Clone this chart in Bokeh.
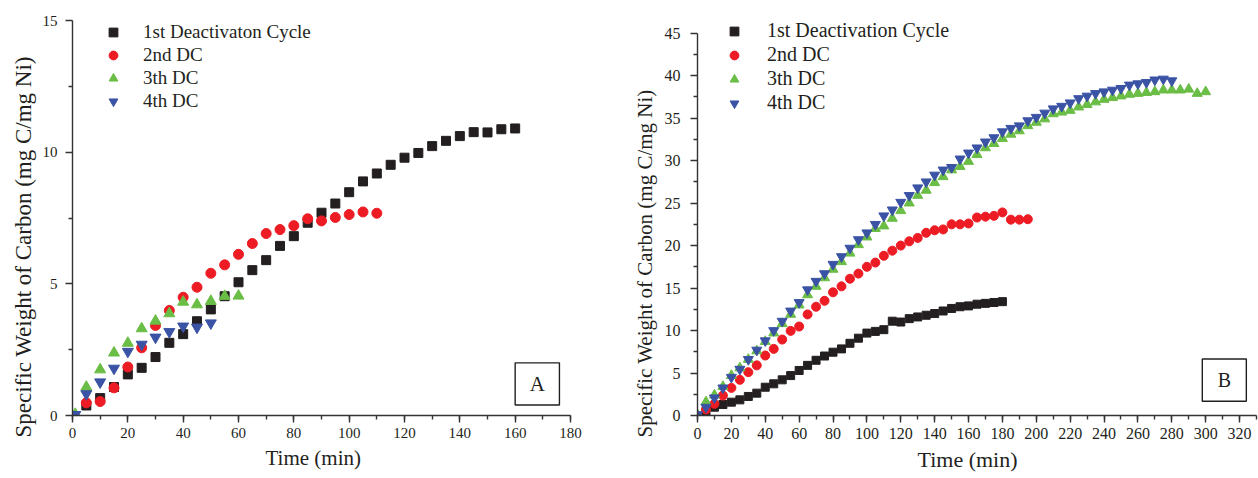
from bokeh.plotting import figure
from bokeh.layouts import row
from bokeh.models import Range1d, FixedTicker, BoxAnnotation, Label, Title
from bokeh.embed import file_html
from bokeh.resources import INLINE

# ---------------- Panel A data ----------------
a_time1 = [5, 10, 15, 20, 25, 30, 35, 40, 45, 50, 55, 60, 65, 70, 75, 80,
           85, 90, 95, 100, 105, 110, 115, 120, 125, 130, 135, 140, 145, 150, 155, 160]
a_c1 = [0.38, 0.66, 1.08, 1.56, 1.81, 2.22, 2.76, 3.09, 3.58, 4.03, 4.53, 5.06, 5.52, 5.90, 6.44, 6.81,
        7.32, 7.70, 8.05, 8.48, 8.89, 9.19, 9.52, 9.79, 9.97, 10.23, 10.43, 10.61, 10.76, 10.75, 10.87, 10.90]
a_time2 = [5, 10, 15, 20, 25, 30, 35, 40, 45, 50, 55, 60, 65, 70, 75, 80, 85, 90, 95, 100, 105, 110]
a_c2 = [0.48, 0.53, 1.05, 1.84, 2.57, 3.42, 3.99, 4.49, 4.87, 5.40, 5.72, 6.12, 6.53, 6.91, 7.06, 7.21,
        7.47, 7.39, 7.52, 7.63, 7.73, 7.68]
a_time3 = [1, 5, 10, 15, 20, 25, 30, 35, 40, 45, 50, 55, 60]
a_c3 = [0.05, 1.08, 1.74, 2.38, 2.75, 3.30, 3.59, 3.87, 4.31, 4.21, 4.34, 4.53, 4.54]
a_time4 = [1, 5, 10, 15, 20, 25, 30, 35, 40, 45, 50]
a_c4 = [0.03, 0.82, 1.27, 1.79, 2.43, 2.70, 2.97, 3.18, 3.39, 3.35, 3.51]

# ---------------- Panel B data ----------------
b_time1 = [5, 10, 15, 20, 25, 30, 35, 40, 45, 50, 55, 60, 65, 70, 75, 80, 85, 90,
           95, 100, 105, 110, 115, 120, 125, 130, 135, 140, 145, 150, 155, 160, 165, 170, 175, 180]
b_c1 = [0.45, 0.98, 1.29, 1.57, 1.84, 2.24, 2.63, 3.33, 3.73, 4.2, 4.7, 5.3, 5.9, 6.5, 7.0, 7.45, 7.84, 8.5,
        9.1, 9.7, 9.9, 10.1, 11.1, 11.0, 11.4, 11.6, 11.8, 12.0, 12.3, 12.6, 12.8, 12.9, 13.1, 13.2, 13.3, 13.4]
b_time2 = [5, 10, 15, 20, 25, 30, 35, 40, 45, 50, 55, 60, 65, 70, 75, 80, 85, 90, 95, 100,
           105, 110, 115, 120, 125, 130, 135, 140, 145, 150, 155, 160, 165, 170, 175, 180, 185, 190, 195]
b_c2 = [0.7, 1.37, 2.35, 3.25, 4.2, 5.1, 5.9, 7.06, 7.84, 8.94, 9.96, 10.47, 11.9, 12.8, 13.5, 14.5, 15.2, 16.1, 16.7, 17.5,
        18.0, 18.8, 19.4, 20.0, 20.5, 20.9, 21.5, 21.8, 21.9, 22.5, 22.5, 22.6, 23.3, 23.4, 23.5, 23.9, 23.05, 23.05, 23.1]
b_time3 = [0, 5, 10, 15, 20, 25, 30, 35, 40, 45, 50, 55, 60, 65, 70, 75, 80, 85, 90, 95, 100,
           105, 110, 115, 120, 125, 130, 135, 140, 145, 150, 155, 160, 165, 170, 175, 180, 185, 190, 195, 200,
           205, 210, 215, 220, 225, 230, 235, 240, 245, 250, 255, 260, 265, 270, 275, 280, 285, 290, 295, 300]
b_c3 = [0.1, 1.6, 2.4, 3.4, 4.7, 5.6, 6.6, 7.6, 8.7, 9.7, 10.8, 11.9, 13.0, 14.2, 15.2, 16.2, 17.2, 18.1, 19.1, 20.1, 21.0,
        22.0, 22.3, 23.2, 24.1, 25.0, 25.9, 26.5, 27.4, 28.1, 28.9, 29.3, 29.9, 30.7, 31.5, 32.0, 32.6, 33.1, 33.5, 34.1, 34.5,
        34.9, 35.5, 35.7, 35.9, 36.3, 36.6, 36.9, 37.2, 37.4, 37.6, 37.8, 37.9, 38.0, 38.1, 38.3, 38.3, 38.3, 38.4, 37.9, 38.1]
b_time4 = [0, 5, 10, 15, 20, 25, 30, 35, 40, 45, 50, 55, 60, 65, 70, 75, 80, 85, 90, 95, 100,
           105, 110, 115, 120, 125, 130, 135, 140, 145, 150, 155, 160, 165, 170, 175, 180, 185, 190, 195, 200,
           205, 210, 215, 220, 225, 230, 235, 240, 245, 250, 255, 260, 265, 270, 275, 280]
b_c4 = [0.1, 0.98, 2.08, 3.25, 4.5, 5.45, 6.6, 7.7, 8.8, 10.0, 11.1, 12.3, 13.3, 14.8, 15.8, 16.7, 17.8, 18.7, 19.7, 20.7, 21.5,
        22.5, 23.5, 24.2, 25.1, 25.9, 26.8, 27.5, 28.3, 28.9, 29.2, 30.2, 30.9, 31.5, 32.2, 32.7, 33.4, 33.8, 34.1, 34.7, 35.1,
        35.6, 36.1, 36.4, 36.8, 37.3, 37.6, 37.9, 38.1, 38.3, 38.5, 38.9, 39.05, 39.2, 39.5, 39.6, 39.4]

a_labels = ["1st Deactivaton Cycle", "2nd DC", "3th DC", "4th DC"]
b_labels = ["1st Deactivation Cycle", "2nd DC", "3th DC", "4th DC"]
a_xticks = [0, 20, 40, 60, 80, 100, 120, 140, 160, 180]
a_yticks = [0, 5, 10, 15]
b_xticks = [0, 20, 40, 60, 80, 100, 120, 140, 160, 180, 200, 220, 240, 260, 280, 300, 320]
b_yticks = [0, 5, 10, 15, 20, 25, 30, 35, 40, 45]
x_title = "Time (min)"
y_title = "Specific Weight of Carbon (mg C/mg Ni)"

FONT = "Liberation Serif"
INK = "#231f20"
AXC = "#333333"
COLORS = ["#231f20", "#ed1c24", "#6abd45", "#3a53a4"]
MARKERS = ["square", "circle", "triangle", "inverted_triangle"]


def style_axes(p, ystand, tsize):
    for ax in (p.xaxis[0], p.yaxis[0]):
        ax.axis_line_color = AXC
        ax.axis_line_width = 1.4
        ax.major_tick_line_color = AXC
        ax.minor_tick_line_color = AXC
        ax.major_tick_line_width = 1.4
        ax.minor_tick_line_width = 1.4
        ax.major_tick_out = 7
        ax.major_tick_in = 0
        ax.minor_tick_out = 4
        ax.minor_tick_in = 0
        ax.major_label_text_font = FONT
        ax.major_label_text_font_size = tsize
        ax.major_label_text_color = INK
    p.xaxis[0].major_label_standoff = 5
    p.yaxis[0].major_label_standoff = ystand
    p.xgrid.visible = False
    p.ygrid.visible = False
    p.outline_line_color = None


def style_legend(p, loc, standoff, fsize):
    lg = p.legend[0]
    lg.location = loc
    lg.orientation = "vertical"
    lg.border_line_color = None
    lg.background_fill_alpha = 0
    lg.padding = 0
    lg.margin = 0
    lg.spacing = 1
    lg.glyph_width = 26
    lg.glyph_height = 22
    lg.label_height = 22
    lg.label_standoff = standoff
    lg.label_text_font = FONT
    lg.label_text_font_size = fsize
    lg.label_text_color = INK


def add_titles(p, x_off, x_size, x_stand, y_off, y_size, y_stand):
    p.add_layout(Title(text=x_title, align="left", offset=x_off, standoff=x_stand,
                       text_font=FONT, text_font_size=x_size, text_font_style="normal",
                       text_color=INK), "below")
    p.add_layout(Title(text=y_title, align="left", offset=y_off, standoff=y_stand,
                       text_font=FONT, text_font_size=y_size, text_font_style="normal",
                       text_color=INK), "left")


def add_box(p, l, r, b, t, letter, size):
    p.add_layout(BoxAnnotation(left=l, right=r, bottom=b, top=t, fill_alpha=0,
                               line_color=INK, line_alpha=1.0, line_width=1.4))
    p.add_layout(Label(x=(l + r) / 2, y=(b + t) / 2, text=letter, text_align="center",
                       text_baseline="middle", text_font=FONT, text_font_size=size, text_color=INK))


# ---------------- Panel A ----------------
pA = figure(frame_width=498, frame_height=395, output_backend="svg", toolbar_location=None,
            x_range=Range1d(0, 180), y_range=Range1d(0, 15),
            min_border_left=72, min_border_right=50, min_border_top=20, min_border_bottom=63)
pA.xaxis.ticker = FixedTicker(ticks=a_xticks, minor_ticks=list(range(0, 181, 10)))
pA.yaxis.ticker = FixedTicker(ticks=a_yticks, minor_ticks=[2.5, 7.5, 12.5])
style_axes(pA, 8, "15px")
a_sizes = [9, 10, 11, 11]
for xs, ys, c, m, s, lab in zip([a_time1, a_time2, a_time3, a_time4], [a_c1, a_c2, a_c3, a_c4],
                                COLORS, MARKERS, a_sizes, a_labels):
    pA.scatter(xs, ys, marker=m, size=s, fill_color=c, line_color=c, legend_label=lab)
style_legend(pA, (28, 303), 17, "19px")
add_box(pA, 160, 176, 0.4, 2.0, "A", "21px")
add_titles(pA, 193, "21px", 6, -22, "23px", 8)

# ---------------- Panel B ----------------
pB = figure(frame_width=559, frame_height=395, output_backend="svg", toolbar_location=None,
            x_range=Range1d(0, 330), y_range=Range1d(0, 46.49),
            min_border_left=77, min_border_right=2, min_border_top=20, min_border_bottom=63)
pB.xaxis.ticker = FixedTicker(ticks=b_xticks, minor_ticks=list(range(0, 331, 10)))
pB.yaxis.ticker = FixedTicker(ticks=b_yticks, minor_ticks=[v + 2.5 for v in b_yticks[:-1]])
pB.yaxis.bounds = (0, 45)
style_axes(pB, 10, "16px")
b_sizes = [8, 9, 10, 10]
for xs, ys, c, m, s, lab in zip([b_time1, b_time2, b_time3, b_time4], [b_c1, b_c2, b_c3, b_c4],
                                COLORS, MARKERS, b_sizes, b_labels):
    pB.scatter(xs, ys, marker=m, size=s, fill_color=c, line_color=c, legend_label=lab)
style_legend(pB, (24, 301), 20, "20px")
add_box(pB, 298, 324, 1.68, 6.65, "B", "20px")
add_titles(pB, 220, "22px", 6, -22, "21px", 10)

layout = row(pA, pB)
open("out.html", "w").write(file_html(layout, INLINE))
